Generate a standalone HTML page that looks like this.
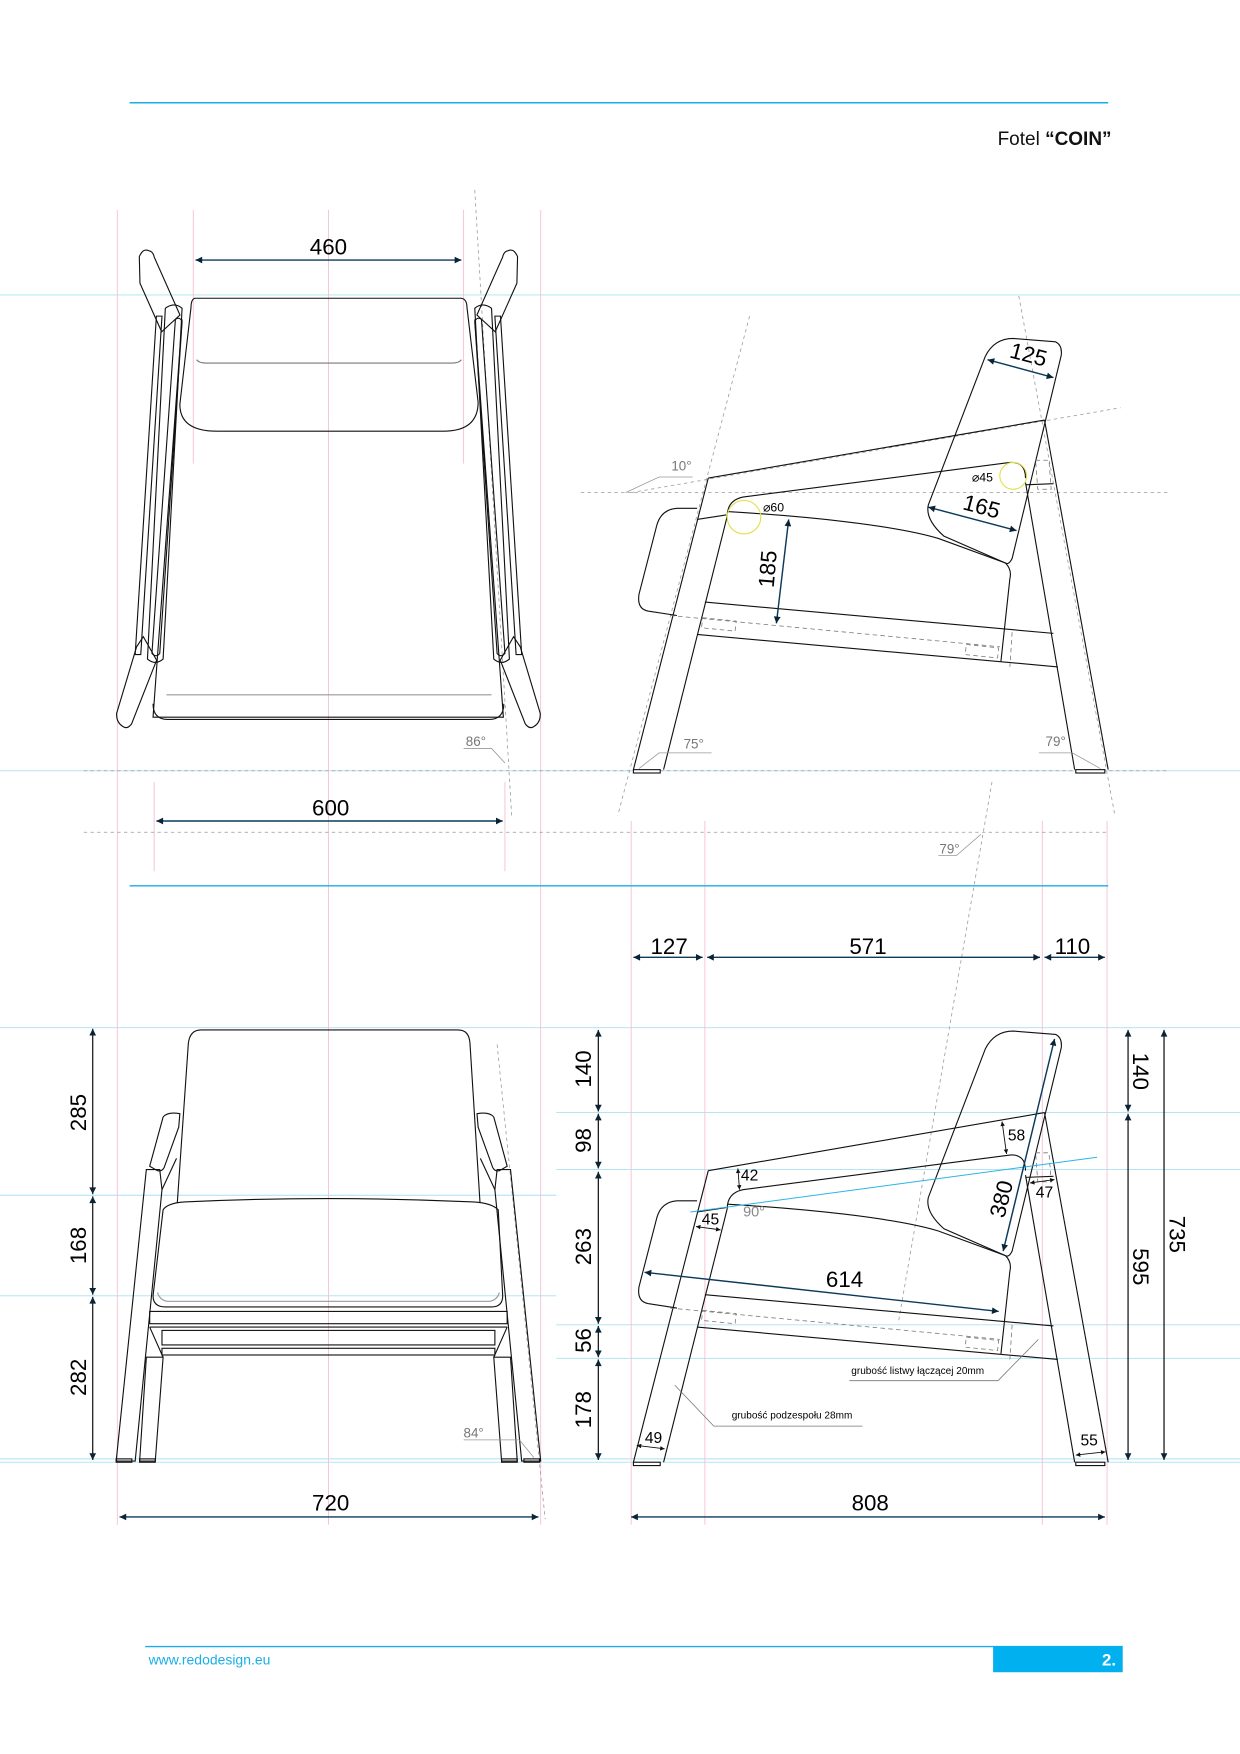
<!DOCTYPE html>
<html><head><meta charset="utf-8"><style>
html,body{margin:0;padding:0;background:#fff;}
svg{display:block;}
text{font-family:"Liberation Sans",sans-serif;}
</style></head><body>
<svg width="1240" height="1754" viewBox="0 0 1110 1570.2" preserveAspectRatio="none" xmlns="http://www.w3.org/2000/svg">
<defs>
<marker id="a" viewBox="0 0 10 10" refX="10" refY="5" markerWidth="9" markerHeight="6" orient="auto-start-reverse" markerUnits="userSpaceOnUse"><path d="M0,0L10,5L0,10z" fill="#0a2436"/></marker>
<marker id="s" viewBox="0 0 10 10" refX="10" refY="5" markerWidth="6" markerHeight="4" orient="auto-start-reverse" markerUnits="userSpaceOnUse"><path d="M0,0L10,5L0,10z" fill="#111"/></marker>
<g id="side" fill="none" stroke="#111" stroke-width="1">
  <line x1="634" y1="428" x2="567" y2="689"/>
  <line x1="651" y1="462" x2="594" y2="689"/>
  <rect x="567" y="689" width="24" height="3" fill="#fff"/>
  <line x1="935" y1="376" x2="992" y2="689"/>
  <line x1="918" y1="432" x2="962" y2="689"/>
  <rect x="963" y="689" width="26" height="3" fill="#fff"/>
  <line x1="634" y1="428" x2="935" y2="376"/>
  <path d="M651,462 Q651,448 665,445 L904,414 Q918,413 918,428"/>
  <line x1="918" y1="434" x2="943" y2="433"/>
  <line x1="624" y1="465" x2="650" y2="461"/>
  <path d="M624,455 L606,455 Q592,456 588,470 L572,532 Q570,545 580,547 L606,551"/>
  <path d="M651,458 C720,462 800,470 840,482 L900,504 Q906,510 904,518 L896,592"/>
  <path d="M882,319 Q890,303 907,303 L945,306 Q951,309 950,318 L906,500 Q903,506 900,504 L845,480 Q828,465 831,452 Z"/>
  <line x1="631" y1="539" x2="943" y2="567"/>
  <line x1="624" y1="568" x2="947" y2="597"/>
  <g stroke="#777" stroke-width="0.7" stroke-dasharray="4,3">
    <line x1="600" y1="551" x2="895" y2="579"/>
    <polygon points="629,553 659,556 658,565 628,562"/>
    <polygon points="865,577 894,580 893,589 864,586"/>
    <polygon points="927,412 939,412 941,438 929,438"/>
    <line x1="906" y1="566" x2="904" y2="597"/>
  </g>
</g>
</defs>

<!-- guides -->
<g stroke="#a9e0f2" stroke-width="0.8">
  <line x1="0" y1="264" x2="1110" y2="264"/>
  <line x1="0" y1="690" x2="1110" y2="690"/>
  <line x1="0" y1="920" x2="1110" y2="920"/>
  <line x1="498" y1="996" x2="1110" y2="996"/>
  <line x1="498" y1="1047" x2="1110" y2="1047"/>
  <line x1="0" y1="1070" x2="498" y2="1070"/>
  <line x1="0" y1="1160" x2="498" y2="1160"/>
  <line x1="498" y1="1186" x2="1110" y2="1186"/>
  <line x1="498" y1="1216" x2="1110" y2="1216"/>
  <line x1="0" y1="1306" x2="1110" y2="1306"/>
  <line x1="0" y1="1309" x2="1110" y2="1309"/>
</g>
<g stroke="#f4bfd3" stroke-width="0.8">
  <line x1="105" y1="188" x2="105" y2="1365"/>
  <line x1="173" y1="188" x2="173" y2="415"/>
  <line x1="415" y1="188" x2="415" y2="415"/>
  <line x1="294" y1="188" x2="294" y2="1365"/>
  <line x1="484" y1="188" x2="484" y2="1365"/>
  <line x1="138" y1="700" x2="138" y2="780"/>
  <line x1="452" y1="700" x2="452" y2="780"/>
  <line x1="565" y1="735" x2="565" y2="1365"/>
  <line x1="631" y1="735" x2="631" y2="1365"/>
  <line x1="933" y1="735" x2="933" y2="1365"/>
  <line x1="991" y1="735" x2="991" y2="1365"/>
</g>
<g stroke="#999" stroke-width="0.7" stroke-dasharray="3,3" fill="none">
  <line x1="75" y1="690" x2="1045" y2="690"/>
  <line x1="75" y1="745" x2="990" y2="745"/>
  <line x1="520" y1="441" x2="1045" y2="441"/>
  <line x1="565" y1="441" x2="1003" y2="365"/>
  <line x1="671" y1="283" x2="553" y2="730"/>
  <line x1="912" y1="265" x2="998" y2="730"/>
  <line x1="425" y1="170" x2="458" y2="730"/>
  <line x1="445" y1="935" x2="488" y2="1360"/>
  <line x1="888" y1="700" x2="804" y2="1185"/>
</g>

<!-- header/footer -->
<line x1="116" y1="92" x2="992" y2="92" stroke="#1aaee8" stroke-width="1.3"/>
<line x1="116" y1="793" x2="992" y2="793" stroke="#1aaee8" stroke-width="1.3"/>
<text x="995" y="130" text-anchor="end" font-size="17" fill="#111">Fotel <tspan font-weight="bold">“COIN”</tspan></text>
<line x1="130" y1="1474" x2="1005" y2="1474" stroke="#1aaee8" stroke-width="1.3"/>
<rect x="889" y="1474" width="116" height="23" fill="#00b0ef"/>
<text x="999" y="1491" text-anchor="end" font-size="15" font-weight="bold" fill="#fff">2.</text>
<text x="133" y="1490" font-size="12.5" fill="#1aaee8">www.redodesign.eu</text>

<!-- PLAN VIEW -->
<g fill="none" stroke="#111" stroke-width="1">
  <path d="M163,286 L137,642 L450.6,642 L425,286"/>
  <path d="M137,630 Q137,644 150,644 L438,644 Q451,644 451,630" />
  <path d="M149,622 L440,622" stroke="#999"/>
  <path d="M174.5,267 L413,267 Q418,268 418,275 L428,360 Q428,386 397,386 L194,386 Q161,386 161,362 L171,275 Q171,268 174.5,267 Z"/>
  <path d="M176,322 Q178,325 184,325 L405,325 Q411,325 413,322" stroke="#777"/>
  <!-- left rails -->
  <path d="M148,276 Q156,270 163,276 L146,590 Q139,596 132,590 Z"/>
  <path d="M157,286 Q161,283 163,288 L143,585 Q140,589 136,585 Z"/>
  <path d="M140,283 L145,283 L126,586 L121,586 Z"/>
  <!-- right rails -->
  <path d="M440,276 Q432,270 425,276 L442,590 Q449,596 456,590 Z"/>
  <path d="M431,286 Q427,283 425,288 L445,585 Q448,589 452,585 Z"/>
  <path d="M448,283 L443,283 L462,586 L467,586 Z"/>
  <!-- legs -->
  <path d="M124.7,229.8 Q128,222 133,224.4 Q137,225 138,230 L161.1,282 L144.7,297 L125.3,253.6 Z"/>
  <path d="M463.3,229.8 Q460,222 455,224.4 Q451,225 450,230 L426.9,282 L443.3,297 L462.7,253.6 Z"/>
  <path d="M128.3,570 L140.2,591 L117.8,648 Q114,653 110.4,650.6 Q104,647 104.4,638.6 L122.3,579 Z"/>
  <path d="M459.7,570 L447.8,591 L470.2,648 Q474,653 477.6,650.6 Q484,647 483.6,638.6 L465.7,579 Z"/>
</g>
<line x1="175" y1="232.8" x2="413" y2="232.8" stroke="#0c3a5c" stroke-width="1.3" marker-start="url(#a)" marker-end="url(#a)"/>
<text x="294" y="228" text-anchor="middle" font-size="20">460</text>
<line x1="140" y1="735" x2="450" y2="735" stroke="#0c3a5c" stroke-width="1.3" marker-start="url(#a)" marker-end="url(#a)"/>
<text x="296" y="730" text-anchor="middle" font-size="20">600</text>
<text x="426" y="668" text-anchor="middle" font-size="12" fill="#777">86°</text>
<line x1="415" y1="670" x2="440" y2="670" stroke="#999" stroke-width="0.7"/>
<line x1="440" y1="670" x2="452" y2="683" stroke="#999" stroke-width="0.7"/>

<!-- SIDE VIEW TOP -->
<use href="#side"/>
<circle cx="666" cy="463" r="15" fill="none" stroke="#e2e04a" stroke-width="1"/>
<circle cx="907" cy="426" r="12" fill="none" stroke="#e2e04a" stroke-width="1"/>
<text x="683" y="458" font-size="11">⌀60</text>
<text x="870" y="431" font-size="11">⌀45</text>
<line x1="884" y1="322" x2="943" y2="338" stroke="#0c3a5c" stroke-width="1.3" marker-start="url(#a)" marker-end="url(#a)"/>
<text x="919" y="324" text-anchor="middle" font-size="20" transform="rotate(15 919 324)">125</text>
<line x1="831" y1="454" x2="910" y2="475" stroke="#0c3a5c" stroke-width="1.3" marker-start="url(#a)" marker-end="url(#a)"/>
<text x="877" y="460" text-anchor="middle" font-size="20" transform="rotate(15 877 460)">165</text>
<line x1="706" y1="465" x2="695" y2="558" stroke="#0c3a5c" stroke-width="1.3" marker-start="url(#a)" marker-end="url(#a)"/>
<text x="694" y="510" text-anchor="middle" font-size="20" transform="rotate(-85 694 510)">185</text>
<text x="610" y="421" text-anchor="middle" font-size="12" fill="#777">10°</text>
<polyline points="560,441 590,427 620,427" fill="none" stroke="#999" stroke-width="0.7"/>
<text x="621" y="670" text-anchor="middle" font-size="12" fill="#777">75°</text>
<polyline points="572,688 590,674 637,674" fill="none" stroke="#999" stroke-width="0.7"/>
<text x="945" y="668" text-anchor="middle" font-size="12" fill="#777">79°</text>
<polyline points="930,674 960,674 985,688" fill="none" stroke="#999" stroke-width="0.7"/>
<text x="850" y="764" text-anchor="middle" font-size="12" fill="#777">79°</text>
<polyline points="840,766 856,766 878,747" fill="none" stroke="#999" stroke-width="0.7"/>

<!-- SIDE VIEW BOTTOM -->
<use href="#side" transform="translate(0,620)"/>
<line x1="618" y1="1085" x2="982" y2="1036" stroke="#29b5e8" stroke-width="0.9"/>
<g stroke="#111" stroke-width="0.8" marker-start="url(#s)" marker-end="url(#s)">
  <line x1="660.5" y1="1046" x2="662" y2="1065"/>
  <line x1="897" y1="1004" x2="901" y2="1033"/>
  <line x1="623" y1="1098" x2="645" y2="1101"/>
  <line x1="922" y1="1059" x2="944" y2="1056"/>
  <line x1="570" y1="1294" x2="595" y2="1297"/>
  <line x1="963" y1="1302.6" x2="989.6" y2="1299.7"/>
</g>
<g font-size="14">
  <text x="671" y="1057" text-anchor="middle">42</text>
  <text x="910" y="1021" text-anchor="middle">58</text>
  <text x="636" y="1096" text-anchor="middle">45</text>
  <text x="935" y="1072" text-anchor="middle">47</text>
  <text x="585" y="1292" text-anchor="middle">49</text>
  <text x="975" y="1294" text-anchor="middle">55</text>
</g>
<text x="675" y="1089" text-anchor="middle" font-size="13" fill="#888">90°</text>
<line x1="944" y1="930" x2="898" y2="1120" stroke="#0c3a5c" stroke-width="1.3" marker-start="url(#a)" marker-end="url(#a)"/>
<text x="903" y="1075" text-anchor="middle" font-size="20" transform="rotate(-76 903 1075)">380</text>
<line x1="577" y1="1139" x2="894" y2="1174" stroke="#0c3a5c" stroke-width="1.3" marker-start="url(#a)" marker-end="url(#a)"/>
<text x="756" y="1152" text-anchor="middle" font-size="20">614</text>
<polyline points="929.5,1199 893.4,1236 760.3,1236" fill="none" stroke="#777" stroke-width="0.7"/>
<text x="821.5" y="1230" text-anchor="middle" font-size="9">grubość listwy łączącej 20mm</text>
<polyline points="604,1240 639,1276.7 772,1276.7" fill="none" stroke="#777" stroke-width="0.7"/>
<text x="709" y="1270" text-anchor="middle" font-size="9">grubość podzespołu 28mm</text>

<!-- dims bottom right -->
<g stroke="#0c3a5c" stroke-width="1.3" marker-start="url(#a)" marker-end="url(#a)">
  <line x1="567" y1="857" x2="629" y2="857"/>
  <line x1="633" y1="857" x2="931" y2="857"/>
  <line x1="935" y1="857" x2="989" y2="857"/>
  <line x1="565" y1="1358" x2="989" y2="1358"/>
  <line x1="107" y1="1358" x2="482" y2="1358"/>
</g>
<g stroke="#111" stroke-width="1.1" marker-start="url(#a)" marker-end="url(#a)">
  <line x1="535.6" y1="922" x2="535.6" y2="995"/>
  <line x1="535.6" y1="997" x2="535.6" y2="1046"/>
  <line x1="535.6" y1="1049" x2="535.6" y2="1185"/>
  <line x1="535.6" y1="1187" x2="535.6" y2="1215"/>
  <line x1="535.6" y1="1217" x2="535.6" y2="1307"/>
  <line x1="1009.8" y1="922" x2="1009.8" y2="995"/>
  <line x1="1009.8" y1="997" x2="1009.8" y2="1307"/>
  <line x1="1042" y1="922" x2="1042" y2="1307"/>
  <line x1="83" y1="921" x2="83" y2="1069"/>
  <line x1="83" y1="1071" x2="83" y2="1159"/>
  <line x1="83" y1="1161" x2="83" y2="1307"/>
</g>
<g font-size="20" text-anchor="middle">
  <text x="599" y="854">127</text>
  <text x="777" y="854">571</text>
  <text x="960" y="854">110</text>
  <text x="779" y="1352">808</text>
  <text x="296" y="1352">720</text>
  <text transform="translate(529,957) rotate(-90)">140</text>
  <text transform="translate(529,1021) rotate(-90)">98</text>
  <text transform="translate(529,1116) rotate(-90)">263</text>
  <text transform="translate(529,1200) rotate(-90)">56</text>
  <text transform="translate(529,1262) rotate(-90)">178</text>
  <text transform="translate(1014,959) rotate(90)">140</text>
  <text transform="translate(1014,1134) rotate(90)">595</text>
  <text transform="translate(1047,1105) rotate(90)">735</text>
  <text transform="translate(77,996) rotate(-90)">285</text>
  <text transform="translate(77,1115) rotate(-90)">168</text>
  <text transform="translate(77,1233) rotate(-90)">282</text>
</g>

<!-- FRONT VIEW -->
<g fill="none" stroke="#111" stroke-width="1">
  <path d="M158.7,1077 L168.6,934 Q170,922 180,922 L410,922 Q420,922 420.7,934 L429.7,1077"/>
  <path d="M146,1083 Q150,1077 165,1076 Q294,1070 424,1076 Q440,1077 446,1083 L450,1160 Q450,1170 440,1170 L148,1170 Q137,1170 137,1160 Z"/>
  <path d="M141,1157 Q143,1164 150,1165 L438,1165 Q445,1164 447,1157" stroke="#999"/>
  <rect x="134" y="1174" width="320" height="11"/>
  <line x1="134" y1="1188" x2="454" y2="1188"/>
  <rect x="145" y="1191" width="298" height="13"/>
  <rect x="145" y="1207" width="298" height="6"/>
  <path d="M134,1188 L146,1215 M454,1188 L442,1215"/>
  <!-- left outer leg -->
  <path d="M131,1047 L143,1047 L145,1065 L121,1308 L104,1308 Z"/>
  <path d="M134,1044 L146,1000 Q150,995 161,997 L160,1009 L147,1045 Q145,1049 141,1048 Z"/>
  <path d="M158,1037 L145,1065"/>
  <path d="M131,1215 L146,1215 L139,1308 L125,1308 Z"/>
  <!-- right -->
  <path d="M457,1047 L445,1047 L443,1065 L467,1308 L484,1308 Z"/>
  <path d="M454,1044 L442,1000 Q438,995 427,997 L428,1009 L441,1045 Q443,1049 447,1048 Z"/>
  <path d="M430,1037 L443,1065"/>
  <path d="M457,1215 L442,1215 L449,1308 L463,1308 Z"/>
  <rect x="104" y="1306" width="14" height="3"/><rect x="125" y="1306" width="14" height="3"/>
  <rect x="449" y="1306" width="14" height="3"/><rect x="469" y="1306" width="14" height="3"/>
</g>
<text x="424" y="1287" text-anchor="middle" font-size="12" fill="#777">84°</text>
<polyline points="415,1289 465,1289 478,1305" fill="none" stroke="#999" stroke-width="0.7"/>
</svg>
</body></html>
